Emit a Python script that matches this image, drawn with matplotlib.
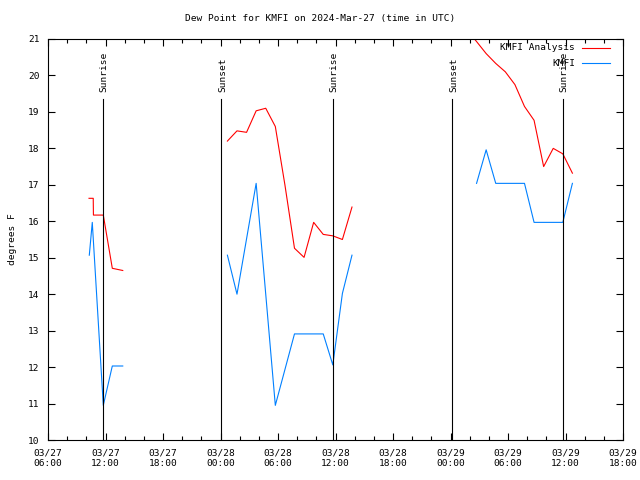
#!/usr/bin/env python3
"""Dew point for KMFI - gnuplot-style recreation."""

import matplotlib
matplotlib.use('Agg')
import matplotlib.pyplot as plt
from matplotlib.transforms import blended_transform_factory
from matplotlib.lines import Line2D

# ── Data (hours after 03/27 06:00 UTC) ──────────────────────────
ANA1_H = [4.28, 4.72, 4.74, 5.77, 6.71, 7.80]
ANA1_F = [16.63, 16.63, 16.17, 16.17, 14.71, 14.65]
OBS1_H = [4.31, 4.62, 5.77, 6.71, 7.80]
OBS1_F = [15.07, 15.97, 10.95, 12.03, 12.03]

ANA2_H = [18.72, 19.72, 20.72, 21.72, 22.72, 23.72, 24.72,
          25.72, 26.72, 27.72, 28.72, 29.72, 30.72, 31.72]
ANA2_F = [18.20, 18.48, 18.44, 19.03, 19.10, 18.60, 17.00,
          15.26, 15.01, 15.97, 15.64, 15.60, 15.50, 16.39]
OBS2_H = ANA2_H
OBS2_F = [15.07, 14.00, 15.52, 17.04, 14.00, 10.95, 11.93,
          12.91, 12.91, 12.91, 12.91, 12.06, 14.02, 15.07]

ANA3_H = [43.72, 44.72, 45.72, 46.72, 47.72, 48.72, 49.72,
          50.72, 51.72, 52.72, 53.72, 54.72]
ANA3_F = [21.25, 20.93, 20.60, 20.33, 20.10, 19.75, 19.15,
          18.77, 17.50, 18.00, 17.85, 17.32]
OBS3_H = ANA3_H[1:]
OBS3_F = [17.04, 17.96, 17.04, 17.04, 17.04, 17.04,
          15.97, 15.97, 15.97, 15.97, 17.04]

SUN_H      = [5.78, 18.10, 29.72, 42.20, 53.72]
SUN_LABELS = ['Sunrise', 'Sunset', 'Sunrise', 'Sunset', 'Sunrise']

XTICKS       = list(range(0, 61, 6))
XTICK_LABELS = ['03/27\n06:00', '03/27\n12:00', '03/27\n18:00', '03/28\n00:00',
                '03/28\n06:00', '03/28\n12:00', '03/28\n18:00', '03/29\n00:00',
                '03/29\n06:00', '03/29\n12:00', '03/29\n18:00']
YTICKS = list(range(10, 22))

RED  = '#ff0000'
BLUE = '#0080ff'
FONT = 'DejaVu Sans Mono'
FS   = 6.8

plt.rcParams['font.family'] = FONT

fig = plt.figure(figsize=(6.4, 4.8), dpi=100)
ax = fig.add_axes([48 / 640, 40 / 480, 575 / 640, 401 / 480])

for h, f in [(ANA1_H, ANA1_F), (ANA2_H, ANA2_F), (ANA3_H, ANA3_F)]:
    ax.plot(h, f, color=RED, lw=0.8)
for h, f in [(OBS1_H, OBS1_F), (OBS2_H, OBS2_F), (OBS3_H, OBS3_F)]:
    ax.plot(h, f, color=BLUE, lw=0.8)

trans = blended_transform_factory(ax.transData, ax.transAxes)
for h, lab in zip(SUN_H, SUN_LABELS):
    ax.axvline(h, ymin=0, ymax=0.85, color='black', lw=0.8)
    ax.text(h + 0.1, 0.869, lab, rotation=90, transform=trans,
            ha='center', va='bottom', fontsize=FS)

ax.set_xlim(0, 60)
ax.set_ylim(10, 21)
ax.set_xticks(XTICKS)
ax.set_xticklabels(XTICK_LABELS, fontsize=FS, linespacing=1.25)
ax.set_xticks(range(0, 61, 2), minor=True)
ax.set_yticks(YTICKS)
ax.set_yticklabels([str(v) for v in YTICKS], fontsize=FS)
ax.tick_params(which='both', direction='in', top=True, right=True, width=0.8)
ax.tick_params(which='major', length=5, pad=6)
ax.tick_params(which='minor', length=3)
for s in ax.spines.values():
    s.set_linewidth(0.8)

ax.set_ylabel('degrees F', fontsize=FS, labelpad=8)
fig.text(0.5, 1 - 19 / 480, 'Dew Point for KMFI on 2024-Mar-27 (time in UTC)',
         ha='center', va='center', fontsize=FS)

# legend drawn gnuplot style (right-aligned labels)
for yy, lab, col in [(0.978, 'KMFI Analysis', RED), (0.940, 'KMFI', BLUE)]:
    ax.text(0.9165, yy, lab, transform=ax.transAxes, ha='right', va='center',
            fontsize=FS)
    ax.add_line(Line2D([0.9287, 0.9774], [yy, yy], transform=ax.transAxes,
                       color=col, lw=0.8))

fig.savefig('out.png', dpi=100)
